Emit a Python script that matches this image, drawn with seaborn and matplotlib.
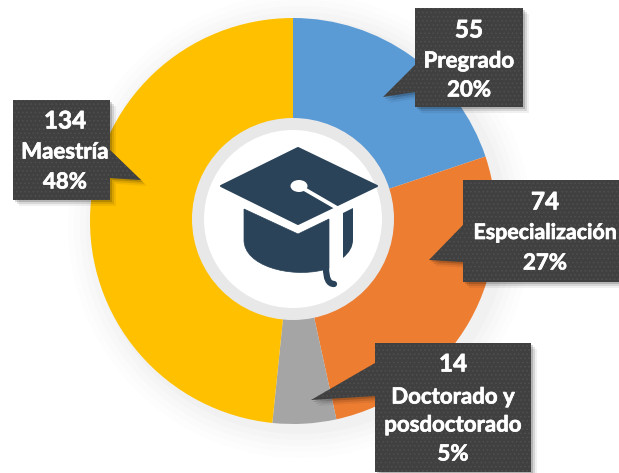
import matplotlib
matplotlib.use("Agg")
import matplotlib.pyplot as plt
import matplotlib.patheffects as pe
import seaborn as sns
from matplotlib.patches import Circle, Ellipse, Polygon, PathPatch
from matplotlib.path import Path

categorias = ["Pregrado", "Especialización", "Doctorado y\nposdoctorado", "Maestría"]
valores = [55, 74, 14, 134]
porcentajes = ["20%", "27%", "5%", "48%"]
colores = ["#5B9BD5", "#ED7D31", "#A5A5A5", "#FFC000"]

sns.set_theme(style="white")
plt.rcParams["font.family"] = ["Lato", "DejaVu Sans"]
plt.rcParams["hatch.linewidth"] = 0.7

H = 473


def flip(puntos):
    return [(x, H - y) for x, y in puntos]


fig, ax = plt.subplots(figsize=(6.19, 4.73), dpi=100)
fig.subplots_adjust(0, 0, 1, 1)

# halo suave detras del anillo
for r, a in [(232, 0.012), (226, 0.015), (220, 0.02), (214, 0.025), (208, 0.03)]:
    ax.add_patch(Circle((300, H - 226), r, color="#808080", alpha=a, lw=0, zorder=0))

ax.pie(valores, colors=colores, startangle=90, counterclock=False,
       center=(293, H - 221), radius=203, frame=True,
       wedgeprops={"linewidth": 0, "zorder": 1})
ax.set_xlim(0, 619)
ax.set_ylim(0, 473)
ax.set_aspect("equal")
ax.axis("off")

ax.add_patch(Circle((293, H - 219), 101, color="#E8E8E8", lw=0, zorder=2))
ax.add_patch(Circle((293, H - 219), 89, color="white", lw=0, zorder=3))

# birrete
azul = "#2A4359"
ax.add_patch(Polygon(flip([(298, 148), (221, 186), (298, 224), (377, 186)]), facecolor=azul, edgecolor=azul,
                     lw=1.5, joinstyle="round", zorder=4))
base = Path(flip([(244, 209), (298, 234), (329, 219), (329, 268), (323, 270),
                  (290, 278), (244, 266), (244, 240), (244, 209)]),
            [Path.MOVETO, Path.LINETO, Path.LINETO, Path.LINETO, Path.LINETO,
             Path.CURVE4, Path.CURVE4, Path.CURVE4, Path.LINETO])
ax.add_patch(PathPatch(base, facecolor=azul, edgecolor=azul, lw=0.5, zorder=4))
lado = Path(flip([(343, 213), (353, 208), (353, 240), (353, 250), (343, 258)]),
            [Path.MOVETO, Path.LINETO, Path.LINETO, Path.CURVE3, Path.CURVE3])
ax.add_patch(PathPatch(lado, facecolor=azul, lw=0, zorder=4))
borla = Path(flip([(326, 268), (326, 284), (334, 284)]), [Path.MOVETO, Path.CURVE3, Path.CURVE3])
ax.add_patch(PathPatch(borla, fill=False, edgecolor=azul, lw=4.5, capstyle="round", zorder=4))
ax.plot([299, 337], [H - 186, H - 208], color="white", lw=2.8, zorder=5)
ax.add_patch(Ellipse((299, H - 186), 17, 12, color="white", lw=0, zorder=5))

# etiquetas: caja y punta en pixeles de la figura
cajas = [(415, 8, 523, 107), (463, 180, 625, 282), (375, 343, 531, 472), (13, 100, 110, 200)]
puntas = [[(415, 65), (383, 97), (415, 92)],
          [(463, 225), (429, 260), (463, 262)],
          [(375, 363), (311, 400), (375, 396)],
          [(110, 150), (141, 180), (110, 178)]]
lineas_y = [[30, 61, 90], [202, 233, 263], [364, 397, 425, 454], [121, 152, 182]]
centro_x = [469, 545, 453, 65]

for i, cat in enumerate(categorias):
    x0, y0, x1, y1 = cajas[i]
    p = puntas[i]
    if x0 < 200:
        forma = [(x0, y0), (x1, y0), p[0], p[1], p[2], (x1, y1), (x0, y1)]
    else:
        forma = [(x0, y0), (x1, y0), (x1, y1), (x0, y1), p[2], p[1], p[0]]
    for d, a in [(6, 0.06), (4, 0.10), (2, 0.16)]:
        ax.add_patch(Polygon(flip([(x + d, y + d) for x, y in forma]), color="black", alpha=a, lw=0, zorder=6))
    ax.add_patch(Polygon(flip(forma), facecolor="#404040", edgecolor="#4E4E4E", hatch="....", lw=0, zorder=7))
    textos = [str(valores[i])] + cat.split("\n") + [porcentajes[i]]
    for t, yy in zip(textos, lineas_y[i]):
        tam = 17.5 if t == textos[0] else 16
        if t == "Especialización":
            tam = 15.4
        ax.text(centro_x[i], H - yy, t, color="white", fontsize=tam, fontweight="bold", ha="center", va="center",
                zorder=8, path_effects=[pe.withStroke(linewidth=0.5, foreground="white")])

fig.savefig("out.png", dpi=100)
